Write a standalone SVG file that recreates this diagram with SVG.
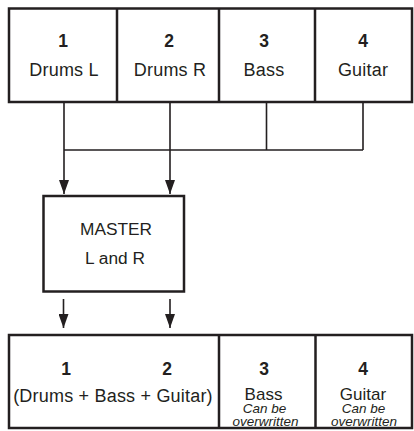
<svg xmlns="http://www.w3.org/2000/svg" width="414" height="431" viewBox="0 0 414 431">
<defs>
<style>
.box{fill:#fff;stroke:#231f20;stroke-width:2.5}
.div{stroke:#231f20;stroke-width:2.5;fill:none}
.ln{stroke:#231f20;stroke-width:1.6;fill:none}
text{font-family:"Liberation Sans",Arial,sans-serif;fill:#231f20;text-anchor:middle}
.num{font-size:17.5px;font-weight:bold}
.lbl{font-size:18px;letter-spacing:0.2px}
.it{font-size:13.5px;font-style:italic}
</style>
<marker id="ah" viewBox="0 0 14 10" refX="14" refY="5" markerWidth="14" markerHeight="10" markerUnits="userSpaceOnUse" orient="auto">
<path d="M0,0 L14,5 L0,10 Z" fill="#231f20"/>
</marker>
</defs>
<rect width="414" height="431" fill="#fff"/>
<g id="connectors">
<path class="ln" d="M64,102 V150 M170,102 V150 M266.5,102 V150 M363,102 V150 M64,150 H363"/>
<path class="ln" d="M64,150 V194" marker-end="url(#ah)"/>
<path class="ln" d="M170,150 V194" marker-end="url(#ah)"/>
<path class="ln" d="M63.5,299 V328" marker-end="url(#ah)"/>
<path class="ln" d="M170,299 V328" marker-end="url(#ah)"/>
</g>
<g id="tracks">
<rect class="box" x="9" y="8.5" width="403" height="93.5"/>
<path class="div" d="M117,8.5 V102 M219,8.5 V102 M315,8.5 V102"/>
<g id="track1"><text class="num" x="63" y="47">1</text><text class="lbl" x="64" y="76">Drums L</text></g>
<g id="track2"><text class="num" x="169" y="47">2</text><text class="lbl" x="170" y="76">Drums R</text></g>
<g id="track3"><text class="num" x="264" y="47">3</text><text class="lbl" x="264" y="76">Bass</text></g>
<g id="track4"><text class="num" x="363" y="47">4</text><text class="lbl" x="363" y="76">Guitar</text></g>
</g>
<g id="master">
<rect class="box" x="43.5" y="196" width="140.5" height="95.5"/>
<text x="116" y="235" style="font-size:17.3px">MASTER</text>
<text x="115" y="264" style="font-size:17.3px">L and R</text>
</g>
<g id="result">
<rect class="box" x="9" y="335" width="403" height="93"/>
<path class="div" d="M219,335 V428 M315.5,335 V428"/>
<g id="result12">
<text class="num" x="66" y="375">1</text>
<text class="num" x="167" y="375">2</text>
<text class="lbl" x="113" y="401.5">(Drums + Bass + Guitar)</text>
</g>
<g id="result3">
<text class="num" x="264" y="375">3</text>
<text x="263.5" y="400" style="font-size:17px">Bass</text>
<text class="it" x="264.5" y="413">Can be</text>
<text class="it" x="265.5" y="425.5">overwritten</text>
</g>
<g id="result4">
<text class="num" x="363" y="375">4</text>
<text x="363" y="400" style="font-size:17px">Guitar</text>
<text class="it" x="363.5" y="413">Can be</text>
<text class="it" x="364" y="425.5">overwritten</text>
</g>
</g>
</svg>
